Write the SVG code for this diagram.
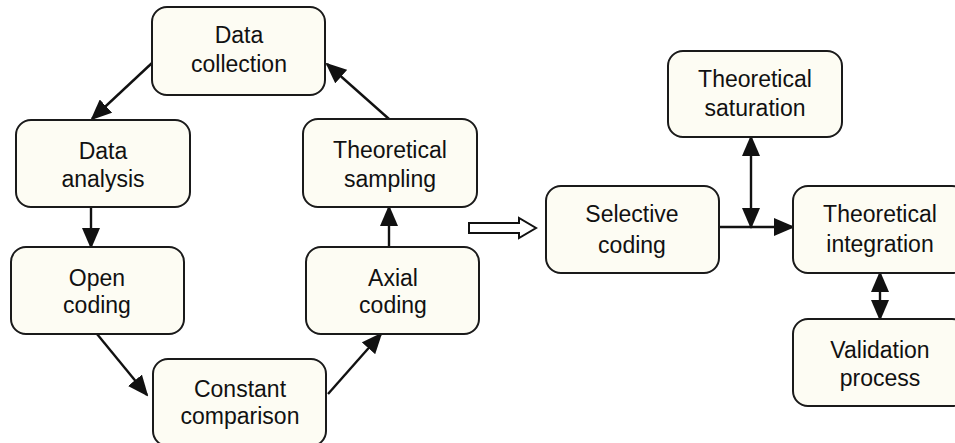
<svg xmlns="http://www.w3.org/2000/svg" width="955" height="443" viewBox="0 0 955 443">
<style>
.box{fill:#fdfcf3;stroke:#1a1a1a;stroke-width:2}
.t{font-family:"Liberation Sans",Arial,sans-serif;font-size:23px;fill:#111;text-anchor:middle}
.c{stroke:#111;stroke-width:2.4;fill:none}
</style>
<defs>
<marker id="ah" markerUnits="userSpaceOnUse" markerWidth="21" markerHeight="18" refX="19" refY="9" orient="auto-start-reverse" viewBox="0 0 21 18">
<path d="M0,0 L21,9 L0,18 z" fill="#111"/>
</marker>
</defs>
<rect width="955" height="443" fill="#ffffff"/>
<g id="connectors">
<line class="c" x1="152" y1="63" x2="92" y2="119" marker-end="url(#ah)"/>
<line class="c" x1="91" y1="207" x2="91" y2="247" marker-end="url(#ah)"/>
<line class="c" x1="97" y1="334" x2="147" y2="395" marker-end="url(#ah)"/>
<line class="c" x1="328" y1="394" x2="381" y2="334" marker-end="url(#ah)"/>
<line class="c" x1="389" y1="247" x2="389" y2="207" marker-end="url(#ah)"/>
<line class="c" x1="389" y1="119" x2="327" y2="64" marker-end="url(#ah)"/>
<polygon points="469,223 519,223 519,218 536,228 519,238 519,233 469,233" fill="#ffffff" stroke="#111" stroke-width="2" stroke-linejoin="miter"/>
<line class="c" x1="719" y1="227" x2="793" y2="227" marker-end="url(#ah)"/>
<line class="c" x1="751" y1="137" x2="751" y2="227" marker-start="url(#ah)" marker-end="url(#ah)"/>
<line class="c" x1="880" y1="273" x2="880" y2="319" marker-start="url(#ah)" marker-end="url(#ah)"/>
</g>
<g id="data-collection"><rect class="box" x="152" y="7" width="173" height="88" rx="15"/><text class="t" x="239" y="43">Data</text><text class="t" x="239" y="72">collection</text></g>
<g id="data-analysis"><rect class="box" x="16" y="120" width="174" height="87" rx="15"/><text class="t" x="103" y="159">Data</text><text class="t" x="103" y="187">analysis</text></g>
<g id="theoretical-sampling"><rect class="box" x="303" y="119" width="174" height="88" rx="15"/><text class="t" x="390" y="158">Theoretical</text><text class="t" x="390" y="187">sampling</text></g>
<g id="open-coding"><rect class="box" x="11" y="247" width="173" height="87" rx="15"/><text class="t" x="97" y="286">Open</text><text class="t" x="97" y="313">coding</text></g>
<g id="axial-coding"><rect class="box" x="306" y="247" width="173" height="87" rx="15"/><text class="t" x="393" y="286">Axial</text><text class="t" x="393" y="313">coding</text></g>
<g id="constant-comparison"><rect class="box" x="153" y="359" width="173" height="87" rx="15"/><text class="t" x="240" y="397">Constant</text><text class="t" x="240" y="424">comparison</text></g>
<g id="theoretical-saturation"><rect class="box" x="668" y="51" width="174" height="86" rx="15"/><text class="t" x="755" y="87">Theoretical</text><text class="t" x="755" y="116">saturation</text></g>
<g id="selective-coding"><rect class="box" x="546" y="186" width="173" height="87" rx="15"/><text class="t" x="632" y="222">Selective</text><text class="t" x="632" y="253">coding</text></g>
<g id="theoretical-integration"><rect class="box" x="793" y="186" width="174" height="87" rx="15"/><text class="t" x="880" y="222">Theoretical</text><text class="t" x="880" y="252">integration</text></g>
<g id="validation-process"><rect class="box" x="793" y="319" width="174" height="87" rx="15"/><text class="t" x="880" y="358">Validation</text><text class="t" x="880" y="386">process</text></g>
</svg>
